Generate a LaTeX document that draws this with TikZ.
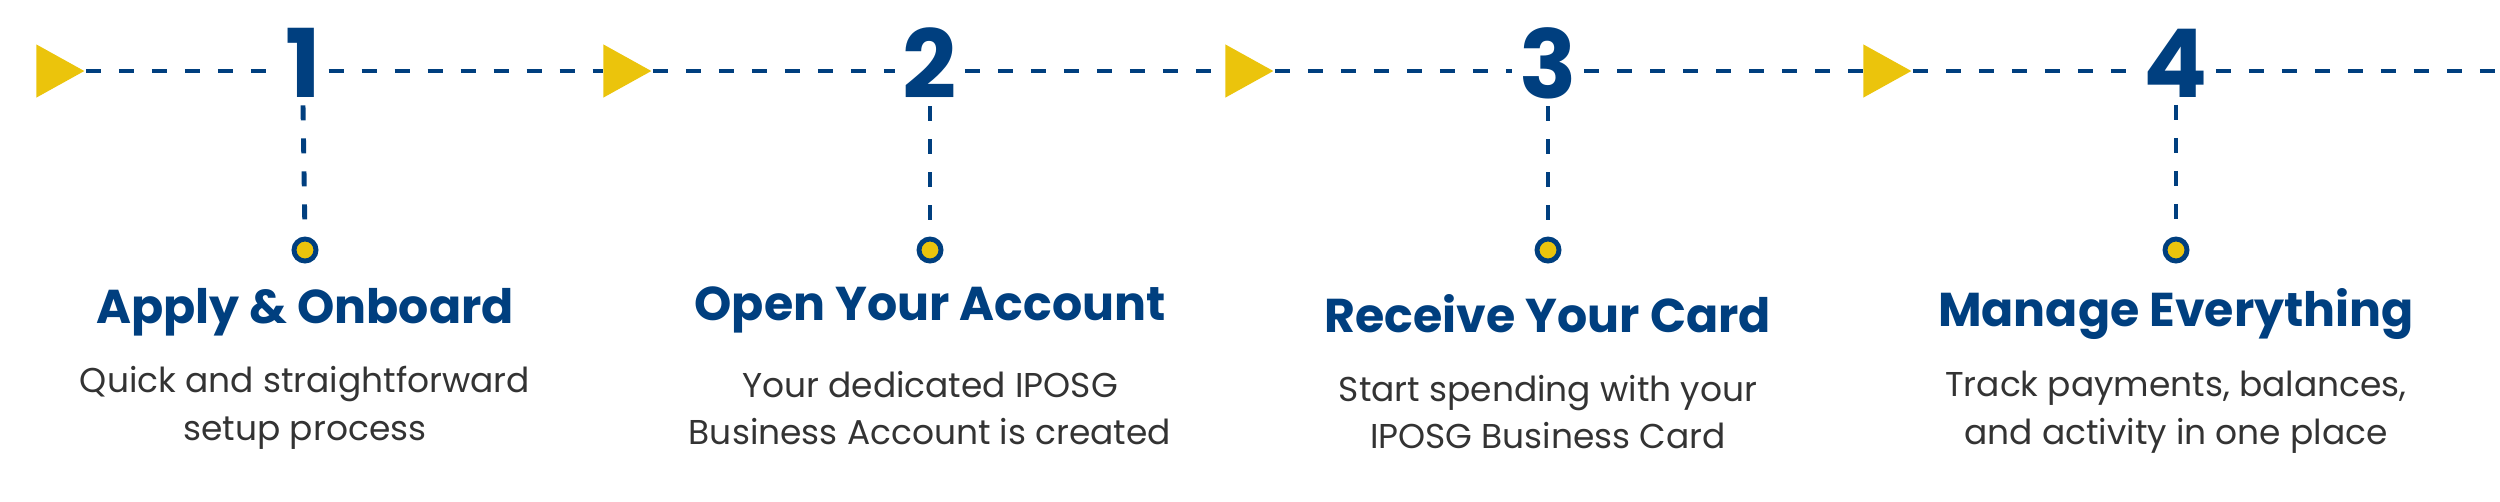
\documentclass[tikz,border=0pt]{standalone}
\usepackage{fontspec}
\setmainfont{Poppins}
\definecolor{iposgblue}{HTML}{003F7F}
\definecolor{iposgyellow}{HTML}{EBC40C}
\definecolor{iposgtext}{HTML}{333333}
\usetikzlibrary{calc, positioning, shapes.geometric}

\tikzset{
  marker/.style={fill=iposgyellow, isosceles triangle, isosceles triangle apex angle=58, minimum height=0.48cm, inner sep=0pt},
  num/.style={text=iposgblue, font=\fontsize{27}{27}\selectfont\bfseries, inner sep=2pt},
  dot/.style={circle, draw=iposgblue, line width=1.4pt, fill=iposgyellow, minimum size=0.22cm, inner sep=0pt},
  title/.style={text=iposgblue, font=\fontsize{13.5}{16}\selectfont\bfseries},
  desc/.style={text=iposgtext, align=center, font=\fontsize{9.8}{13.5}\selectfont},
  track/.style={iposgblue, line width=1.4pt, dash pattern=on 0.15cm off 0.18cm},
}

\begin{document}
\begin{tikzpicture}
  \useasboundingbox (0,0) rectangle (25,-5.01);

  % Markers
  \node[marker] (m1) at (0.52,-0.71) {};
  \node[marker] (m2) at (6.19,-0.71) {};
  \node[marker] (m3) at (12.41,-0.71) {};
  \node[marker] (m4) at (18.79,-0.71) {};
  \coordinate (end) at (25,-0.71);

  % Numbers
  \node[num] (n1) at (3.03,-0.63) {1};
  \node[num] (n2) at (9.30,-0.63) {2};
  \node[num] (n3) at (15.48,-0.63) {3};
  \node[num] (n4) at (21.76,-0.63) {4};

  % Dots
  \node[dot] (d1) at (3.05,-2.50) {};
  \node[dot] (d2) at (9.30,-2.50) {};
  \node[dot] (d3) at (15.48,-2.50) {};
  \node[dot] (d4) at (21.76,-2.50) {};

  % Track
  \draw[track] (m1.apex) -- (n1.west |- m1.apex);
  \draw[track] (n1.east |- m1.apex) -- (m2.west);
  \draw[track] (m2.apex) -- (n2.west |- m2.apex);
  \draw[track] (n2.east |- m2.apex) -- (m3.west);
  \draw[track] (m3.apex) -- (n3.west |- m3.apex);
  \draw[track] (n3.east |- m3.apex) -- (m4.west);
  \draw[track] (m4.apex) -- (n4.west |- m4.apex);
  \draw[track] (n4.east |- m4.apex) -- (end);
  \draw[track] (n1.south) -- (d1.north);
  \draw[track] (n2.south) -- (d2.north);
  \draw[track] (n3.south) -- (d3.north);
  \draw[track] (n4.south) -- (d4.north);

  % Titles
  \node[title] (t1) at (3.05,-3.12) {Apply \& Onboard};
  \node[title] (t2) at (9.30,-3.10) {Open Your Account};
  \node[title] (t3) at (15.48,-3.14) {Receive Your Card};
  \node[title] (t4) at (21.76,-3.14) {Manage Everything};

  % Descriptions
  \node[desc] (s1) at (3.05,-4.08) {Quick and straightforward\\setup process};
  \node[desc] (s2) at (9.30,-4.08) {Your dedicated IPOSG\\Business Account is created};
  \node[desc] (s3) at (15.48,-4.12) {Start spending with your\\IPOSG Business Card};
  \node[desc] (s4) at (21.76,-4.12) {Track payments, balances,\\and activity in one place};
\end{tikzpicture}
\end{document}
